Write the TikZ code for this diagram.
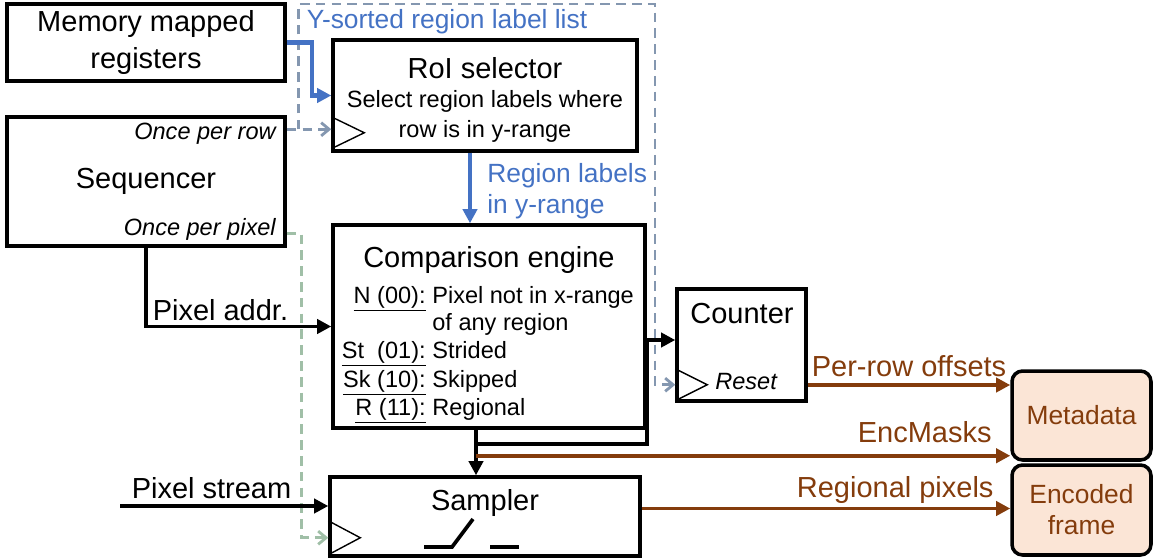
\documentclass[tikz,border=0pt]{standalone}
\usepackage{fontspec}
\setmainfont{Liberation Sans}
\usepackage{tikz}
\usetikzlibrary{arrows.meta,calc,positioning}
\definecolor{lblue}{HTML}{4472C4}
\definecolor{lgray}{HTML}{8497B0}
\definecolor{lgreen}{HTML}{A0BFA7}
\definecolor{brn}{HTML}{843C0C}
\definecolor{peach}{HTML}{FBE5D6}
\newcommand{\fbig}{\fontsize{16.5}{21}\selectfont}
\newcommand{\fmid}{\fontsize{15}{17.6}\selectfont}
\newcommand{\fsml}{\fontsize{13.4}{17}\selectfont}
\tikzset{
  blk/.style={draw,line width=2pt,inner sep=0pt},
  outp/.style={draw,line width=2pt,rounded corners=6pt,fill=peach,text=brn,font=\fmid,
    align=center,inner sep=0pt,minimum width=2.78cm},
  txt/.style={anchor=base,inner sep=0pt},
  sig/.style={line width=2pt,-{Triangle[length=8pt,width=8pt]}},
  regsig/.style={lblue,line width=2.3pt,-{Triangle[length=8pt,width=8pt]}},
  msig/.style={brn,line width=2pt,-{Triangle[length=8pt,width=8pt]}},
  rowclk/.style={lgray,line width=1.6pt,dash pattern=on 5.5pt off 3.5pt,-{Straight Barb[length=4.5pt,width=7.5pt]}},
  pixclk/.style={lgreen,line width=1.6pt,dash pattern=on 5.5pt off 3.5pt,-{Straight Barb[length=4.5pt,width=7.5pt]}},
  clk/.style={line width=0.8pt}
}
\begin{document}
\begin{tikzpicture}[x=0.02cm,y=-0.02cm]
  \useasboundingbox (0,0) rectangle (1153,558);
  % blocks
  \node[blk,minimum width=5.56cm,minimum height=1.54cm,font=\fbig,align=center] (reg) at (146,42.5) {Memory mapped\\registers};
  \node[blk,minimum width=5.56cm,minimum height=2.58cm,font=\fbig] (seq) at (146,181.5) {Sequencer};
  \node[blk,minimum width=6.08cm,minimum height=2.22cm] (roi) at (485,95.5) {};
  \node[blk,minimum width=6.24cm,minimum height=4.06cm] (cmp) at (489,326.5) {};
  \node[blk,minimum width=2.58cm,minimum height=2.24cm] (cnt) at (741.5,345) {};
  \node[blk,minimum width=6.2cm,minimum height=1.58cm] (smp) at (485,516.5) {};
  \node[outp,minimum height=1.78cm] (meta) at (1081.5,415.5) {Metadata};
  \node[outp,minimum height=1.8cm] (enc) at (1081.5,510) {Encoded\\frame};
  % texts in the blocks
  \node[anchor=base east,inner sep=0pt,font=\fsml\itshape] (rowtxt) at (276,139) {Once per row};
  \node[anchor=base east,inner sep=0pt,font=\fsml\itshape] (pixtxt) at (276,235) {Once per pixel};
  \node[txt,font=\fbig] (roititle) at (485,78) {RoI selector};
  \node[font=\fsml,align=center,inner sep=0pt] (roidesc) at (485,116) {Select region labels where\\row is in y-range};
  \node[txt,font=\fbig] (cmptitle) at (489,267) {Comparison engine};
  \node[anchor=base east,inner sep=0pt,font=\fsml] (kn) at (426,303) {\underline{N (00):}};
  \node[anchor=base west,inner sep=0pt,font=\fsml] (dn) at (432,303) {Pixel not in x-range};
  \node[anchor=base west,inner sep=0pt,font=\fsml] (dn2) at (432,330) {of any region};
  \node[anchor=base east,inner sep=0pt,font=\fsml] (kst) at (426,358) {\underline{St\ \ (01):}};
  \node[anchor=base west,inner sep=0pt,font=\fsml] (dst) at (432,358) {Strided};
  \node[anchor=base east,inner sep=0pt,font=\fsml] (ksk) at (426,387) {\underline{Sk (10):}};
  \node[anchor=base west,inner sep=0pt,font=\fsml] (dsk) at (432,387) {Skipped};
  \node[anchor=base east,inner sep=0pt,font=\fsml] (kr) at (426,415) {\underline{R (11):}};
  \node[anchor=base west,inner sep=0pt,font=\fsml] (dr) at (432,415) {Regional};
  \node[txt,font=\fbig] (cnttitle) at (742,323) {Counter};
  \node[anchor=base west,inner sep=0pt,font=\fsml\itshape] (rst) at (715,389) {Reset};
  \node[txt,font=\fbig] (smptitle) at (485,510) {Sampler};
  % clock inputs
  \draw[clk] ($(roi.south west)+(0,-36)$) -- ++(33,16) -- ++(-33,16);
  \draw[clk] ($(cnt.south west)+(0,-34)$) -- ++(32,16) -- ++(-32,16);
  \draw[clk] ($(smp.south west)+(0,-37)$) -- ++(32,17) -- ++(-32,17);
  % switch
  \draw[line width=2.1pt] (424,547) -- (452,547) -- (473,519);
  \draw[line width=2.1pt] (490,547) -- (519,547);
  % coordinates
  \coordinate (rowout) at ($(seq.north east)+(0,14)$);
  \coordinate (split) at ($(rowout)+(12,0)$);
  \coordinate (lsttop) at (655,4);
  \coordinate (cntclk) at ($(cnt.south west)+(0,-18)$);
  \coordinate (pixout) at ($(seq.south east)+(0,-14)$);
  \coordinate (smpclk) at ($(smp.south west)+(0,-20)$);
  \coordinate (rlab) at ($(roi.south)+(-15,0)$);
  \coordinate (tap) at ($(cmp.south)+(-13,0)$);
  \coordinate (mask) at ($(tap)+(0,26)$);
  \coordinate (perrow) at ($(cnt.east)+(0,40)$);
  \coordinate (regpx) at ($(smp.east)+(0,-8)$);
  \coordinate (pxin) at (120,506);
  % dashed timing lines
  \draw[rowclk] (rowout) -- (rowout -| roi.west);
  \draw[rowclk] (split) |- (lsttop) |- (cntclk);
  \node[txt,lblue,font=\fmid] (lstlbl) at (447,28) {Y-sorted region label list};
  \draw[pixclk] (pixout) -- ++(15,0) |- (smpclk);
  % blue signals
  \draw[regsig] (reg.east) -- ++(25,0) |- (roi.west);
  \draw[regsig] (rlab) -- (rlab |- cmp.north);
  \node[lblue,font=\fmid,align=left,anchor=west,inner sep=0pt] (inrange) at (487,191) {Region labels\\in y-range};
  % black signals
  \draw[sig] (seq.south) |- (cmp.west) node[pos=0.5,anchor=base west,xshift=0.1cm,yshift=0.13cm,inner sep=0pt,font=\fbig] {Pixel addr.};
  \draw[sig] (tap) -- ++(0,14) -- ++(171,0) |- ([yshift=0.1cm]cnt.west);
  \draw[sig] (tap) -- (tap |- smp.north);
  \draw[sig] (pxin) -- (pxin -| smp.west) node[pos=0,anchor=base west,xshift=0.2cm,yshift=0.16cm,inner sep=0pt,font=\fbig] {Pixel stream};
  % outputs
  \draw[msig] (perrow) -- (perrow -| meta.west) node[midway,anchor=base,yshift=0.18cm,inner sep=0pt,text=brn,font=\fbig] {Per-row offsets};
  \draw[msig] (mask) -- (mask -| meta.west) node[pos=1,anchor=base east,xshift=-0.34cm,yshift=0.26cm,inner sep=0pt,text=brn,font=\fbig] {EncMasks};
  \draw[msig] (regpx) -- (regpx -| enc.west) node[pos=1,anchor=base east,xshift=-0.3cm,yshift=0.22cm,inner sep=0pt,text=brn,font=\fbig] {Regional pixels};
\end{tikzpicture}
\end{document}
